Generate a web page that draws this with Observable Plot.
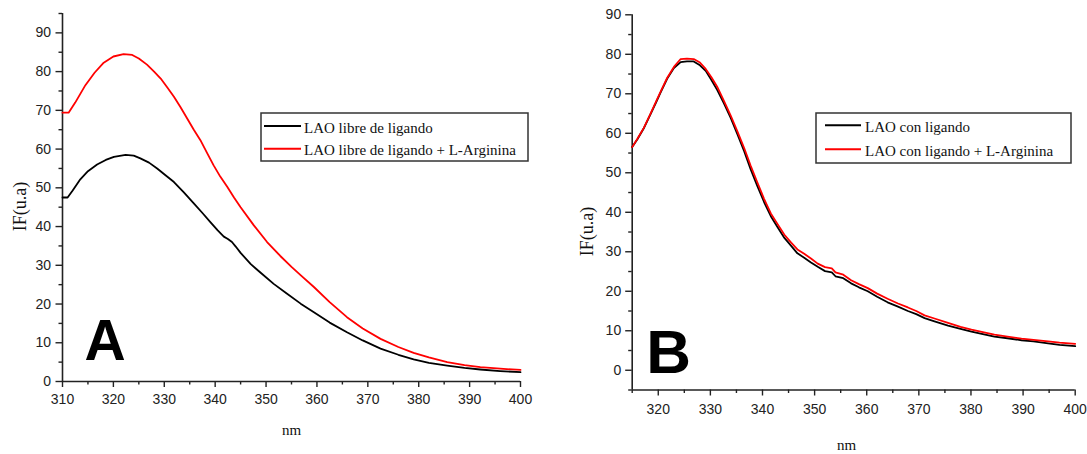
<!DOCTYPE html>
<html>
<head>
<meta charset="utf-8">
<script src="https://cdn.jsdelivr.net/npm/d3@7"></script>
<script src="https://cdn.jsdelivr.net/npm/@observablehq/plot@0.6"></script>
<style>
  body { margin: 0; background: #fff; }
  #wrap { position: relative; width: 1087px; height: 454px; overflow: hidden; }
  #wrap > .panel { position: absolute; top: 0; }
  #overlay { position: absolute; left: 0; top: 0; pointer-events: none; }
</style>
</head>
<body>
<div id="wrap"></div>
<script>
// ---------- Panel A data ----------
const panelALetter = "A";
const seriesNamesA = ["LAO libre de ligando", "LAO libre de ligando + L-Arginina"];
const aBlackNm = [310, 311, 312, 313.5, 315, 316.8, 318.5, 320.1, 322.4, 324, 325.3, 327, 328.6, 330, 331.9, 333.8, 335.8, 337.5, 339.1, 340.5, 341.7, 342.5, 343.3, 344, 345, 347, 349, 351.5, 354, 356.8, 359.4, 362.5, 365.9, 369, 372.5, 376, 379, 382, 385.6, 389, 392.1, 396, 400];
const aBlackIF = [47.5, 47.5, 49.3, 52.2, 54.3, 56.0, 57.2, 58.0, 58.5, 58.3, 57.6, 56.5, 55.0, 53.5, 51.5, 48.9, 46.0, 43.5, 41.1, 39.0, 37.4, 36.8, 36.0, 34.9, 33.2, 30.3, 28.0, 25.2, 22.8, 20.1, 17.9, 15.2, 12.7, 10.6, 8.5, 6.9, 5.7, 4.8, 4.1, 3.5, 3.1, 2.7, 2.4];
const aRedNm = [310, 311.2, 312.5, 314.5, 316.3, 318.1, 320, 322, 323.7, 325, 326.6, 328, 329.3, 330.6, 331.9, 333.2, 334.5, 335.8, 337.1, 338.4, 339.7, 341, 342.4, 343.7, 345, 347.6, 350.2, 352.8, 355, 357, 359.4, 362.5, 365.9, 369, 372.5, 376, 379, 382, 385.6, 389, 392.1, 396, 400];
const aRedIF = [69.4, 69.4, 72.0, 76.5, 79.7, 82.3, 83.9, 84.5, 84.3, 83.4, 81.8, 80.0, 78.2, 75.9, 73.5, 70.8, 67.9, 65.0, 62.3, 59.0, 55.8, 52.9, 50.2, 47.5, 45.0, 40.3, 36.0, 32.4, 29.6, 27.2, 24.4, 20.5, 16.6, 13.7, 11.0, 8.9, 7.4, 6.2, 5.0, 4.2, 3.7, 3.3, 3.0];
const aXDomain = [310, 400];
const aYDomain = [0, 95];
const aXTicks = [310, 320, 330, 340, 350, 360, 370, 380, 390, 400];
const aXMinor = [315, 325, 335, 345, 355, 365, 375, 385, 395];
const aYTicks = [0, 10, 20, 30, 40, 50, 60, 70, 80, 90];
const aYMinor = [5, 15, 25, 35, 45, 55, 65, 75, 85, 95];

// ---------- Panel B data ----------
const panelBLetter = "B";
const seriesNamesB = ["LAO con ligando", "LAO con ligando + L-Arginina"];
const bNm = [315, 316, 317.2, 318.5, 319.5, 320.5, 321.7, 323, 324.3, 325.5, 326.8, 328, 329.1, 330.2, 331.3, 332.6, 333.9, 335.2, 336.5, 337.7, 339, 340.3, 341.6, 342.9, 344.2, 345.5, 346.7, 348, 349.3, 350.6, 352, 353.3, 354, 355.5, 357, 358.5, 360.2, 362, 364, 366, 367.9, 369.5, 371.1, 373, 375.6, 378, 380.1, 382.5, 384.5, 387, 389.7, 392, 394.8, 397, 400];
const bBlackIF = [56.5, 58.5, 61.2, 64.8, 67.6, 70.5, 73.8, 76.5, 78.0, 78.2, 78.2, 77.2, 75.8, 73.5, 71.0, 67.6, 63.9, 59.7, 55.4, 51.0, 46.7, 42.6, 39.0, 36.2, 33.5, 31.5, 29.6, 28.5, 27.3, 26.2, 25.1, 24.8, 23.8, 23.3, 22.0, 21.0, 20.0, 18.6, 17.2, 16.1, 15.0, 14.2, 13.2, 12.4, 11.3, 10.5, 9.8, 9.1, 8.5, 8.1, 7.6, 7.3, 6.8, 6.4, 6.1];
const bRedIF = [56.5, 58.6, 61.3, 64.9, 67.8, 70.7, 74.0, 76.8, 78.8, 78.9, 78.8, 77.9, 76.3, 74.2, 71.8, 68.2, 64.5, 60.4, 56.2, 51.9, 47.6, 43.4, 39.7, 37.0, 34.3, 32.3, 30.6, 29.5, 28.3, 27.0, 26.1, 25.8, 24.8, 24.2, 22.8, 21.8, 20.8, 19.4, 18.1, 16.9, 15.9, 15.0, 13.9, 13.1, 12.0, 11.0, 10.3, 9.6, 9.0, 8.5, 8.0, 7.7, 7.3, 7.0, 6.7];
const bXDomain = [315, 400];
const bYDomain = [-5, 90];
const bXTicks = [320, 330, 340, 350, 360, 370, 380, 390, 400];
const bXMinor = [315, 325, 335, 345, 355, 365, 375, 385, 395];
const bYTicks = [0, 10, 20, 30, 40, 50, 60, 70, 80, 90];
const bYMinor = [-5, 5, 15, 25, 35, 45, 55, 65, 75, 85];

const xLabel = "nm";
const yLabel = "IF(u.a)";
const seriesColors = ["#000000", "#ff0000"];

// ---------- helpers ----------
const table = (xs, ys) => xs.map((x, i) => ({nm: x, v: ys[i]}));
const SANS = "'Liberation Sans', Arial, sans-serif";
const SERIF = "'Liberation Serif', 'Times New Roman', serif";
const AX = "#222";

function panel(cfg) {
  const xMin = cfg.xDomain[0], yMin = cfg.yDomain[0];
  return Plot.plot({
    width: cfg.width, height: 454,
    marginLeft: cfg.ml, marginRight: cfg.mr, marginTop: cfg.mt, marginBottom: cfg.mb,
    x: {domain: cfg.xDomain, label: null},
    y: {domain: cfg.yDomain, label: null},
    style: {background: "transparent", fontFamily: SANS, fontSize: "14px", color: AX, overflow: "visible"},
    marks: [
      Plot.axisX(cfg.xTicks, {tickSize: 6, tickPadding: cfg.xPad, strokeWidth: 1.4, stroke: AX, fill: AX, fontSize: 14, label: null}),
      Plot.axisX(cfg.xMinor, {tickSize: 3.5, tickFormat: () => "", strokeWidth: 1.4, stroke: AX, label: null}),
      Plot.axisY(cfg.yTicks, {tickSize: 6.5, tickPadding: cfg.yPad, strokeWidth: 1.4, stroke: AX, fill: AX, fontSize: 14, label: null}),
      Plot.axisY(cfg.yMinor, {tickSize: 3.5, tickFormat: () => "", strokeWidth: 1.4, stroke: AX, label: null}),
      Plot.ruleX([xMin], {stroke: AX, strokeWidth: 1.6}),
      Plot.ruleY([yMin], {stroke: AX, strokeWidth: 1.6}),
      Plot.line(cfg.black, {x: "nm", y: "v", stroke: seriesColors[0], strokeWidth: 1.8}),
      Plot.line(cfg.red, {x: "nm", y: "v", stroke: seriesColors[1], strokeWidth: 1.8}),
      Plot.text([xLabel], {frameAnchor: "bottom", dx: cfg.nmDx, dy: cfg.nmDy, textAnchor: "middle", lineAnchor: "middle", fontFamily: SERIF, fontSize: 15, fill: "#111"}),
      Plot.text([yLabel], {frameAnchor: "left", rotate: -90, dx: cfg.ifDx, dy: cfg.ifDy, textAnchor: "middle", lineAnchor: "middle", fontFamily: SERIF, fontSize: 18, fill: "#111"}),
      Plot.text([cfg.letter], {frameAnchor: "bottom-left", dx: cfg.letDx, dy: cfg.letDy, textAnchor: "start", lineAnchor: "bottom", fontFamily: SANS, fontWeight: "bold", fontSize: cfg.letSize, fill: "#000"})
    ]
  });
}

const wrap = document.getElementById("wrap");

const pA = panel({
  width: 545, ml: 62, mr: 25, mt: 13, mb: 73,
  xDomain: aXDomain, yDomain: aYDomain, xTicks: aXTicks, xMinor: aXMinor, yTicks: aYTicks, yMinor: aYMinor,
  xPad: 7, yPad: 5,
  black: table(aBlackNm, aBlackIF), red: table(aRedNm, aRedIF),
  nmDx: 0, nmDy: 49, ifDx: -42, ifDy: 9,
  letter: panelALetter, letDx: 22, letDy: -22, letSize: 57
});
pA.classList.add("panel");
pA.style.left = "0px";
wrap.appendChild(pA);

const pB = panel({
  width: 542, ml: 86.7, mr: 12.3, mt: 14.3, mb: 64.5,
  xDomain: bXDomain, yDomain: bYDomain, xTicks: bXTicks, xMinor: bXMinor, yTicks: bYTicks, yMinor: bYMinor,
  xPad: 8, yPad: 4.5,
  black: table(bNm, bBlackIF), red: table(bNm, bRedIF),
  nmDx: -7, nmDy: 55.5, ifDx: -45, ifDy: 29,
  letter: panelBLetter, letDx: 14, letDy: -17.5, letSize: 62
});
pB.classList.add("panel");
pB.style.left = "545px";
wrap.appendChild(pB);

// ---------- legends (inside the plot areas) ----------
const svg = d3.select(wrap).append("svg").attr("id", "overlay").attr("width", 1087).attr("height", 454);
function legend(box, rows, names) {
  const g = svg.append("g");
  g.append("rect").attr("x", box.x).attr("y", box.y).attr("width", box.w).attr("height", box.h)
    .attr("fill", "#fff").attr("stroke", "#333").attr("stroke-width", 1.5);
  names.forEach((name, i) => {
    g.append("line").attr("x1", box.lx1).attr("x2", box.lx2).attr("y1", rows[i]).attr("y2", rows[i])
      .attr("stroke", seriesColors[i]).attr("stroke-width", 2);
    g.append("text").attr("x", box.tx).attr("y", rows[i] + 6.5)
      .attr("font-family", SERIF).attr("font-size", 15).attr("fill", "#111").text(name);
  });
}
legend({x: 261, y: 113, w: 267, h: 48, lx1: 264, lx2: 301, tx: 304}, [126, 148.7], seriesNamesA);
legend({x: 816, y: 113, w: 255, h: 50, lx1: 825, lx2: 861, tx: 865}, [125.3, 149.3], seriesNamesB);
</script>
</body>
</html>
